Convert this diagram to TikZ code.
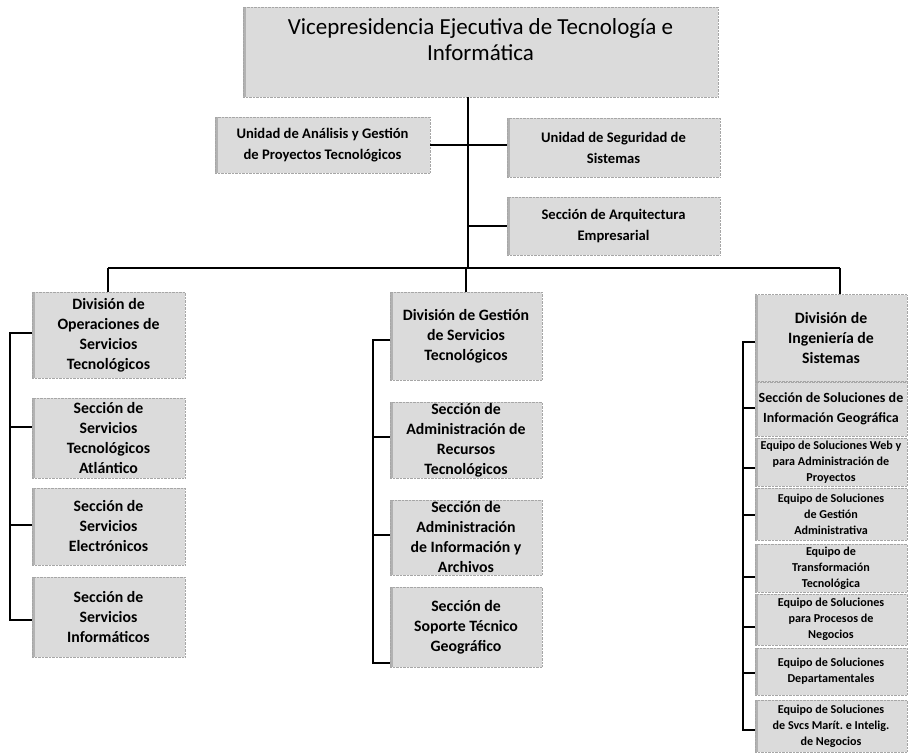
\documentclass[tikz,border=0pt]{standalone}
\usepackage{fontspec}
\setmainfont{Carlito}
\begin{document}
\frenchspacing
\begin{tikzpicture}[x=1pt,y=-1pt,
  box/.style={draw=black!35, densely dotted, fill=black!14, inner sep=0pt, align=center, text=black,
    path picture={\fill[black!30] (path picture bounding box.south west) rectangle ([xshift=3pt]path picture bounding box.north west);}},
  ln/.style={line width=1.7pt, black, solid},
  ftitle/.style={font=\fontsize{23}{26}\selectfont},
  funit/.style={font=\bfseries\fontsize{14.6}{21}\selectfont},
  fcol/.style={font=\bfseries\fontsize{15.8}{20}\selectfont},
  fsmall/.style={font=\bfseries\fontsize{12.1}{16}\selectfont}]
\useasboundingbox (0,0) rectangle (909,752);
\fill[white] (0,0) rectangle (909,752);

% top
\node[box, minimum width=475, minimum height=90] (vp) at (480.5,52) {};
\node[ftitle, align=center] (vptext) at (480.5,40) {Vicepresidencia Ejecutiva de Tecnología e\\Informática};

\node[box, funit, minimum width=215, minimum height=56] (ua) at (322.5,145) {Unidad de Análisis y Gestión\\de Proyectos Tecnológicos};
\node[box, funit, minimum width=213, minimum height=59] (us) at (613.5,147.5) {Unidad de Seguridad de\\Sistemas};
\node[box, funit, minimum width=213, minimum height=58] (sa) at (613.5,226) {Sección de Arquitectura\\Empresarial};

% left column
\node[box, fcol, minimum width=153, minimum height=86] (dop) at (108.5,335) {División de\\Operaciones de\\Servicios\\Tecnológicos};
\node[box, fcol, minimum width=153, minimum height=80] (sta) at (108.5,438) {Sección de\\Servicios\\Tecnológicos\\Atlántico};
\node[box, fcol, minimum width=153, minimum height=77] (sse) at (108.5,526.5) {Sección de\\Servicios\\Electrónicos};
\node[box, fcol, minimum width=153, minimum height=80] (ssi) at (108.5,617) {Sección de\\Servicios\\Informáticos};

% middle column
\node[box, fcol, minimum width=152, minimum height=88] (dgs) at (466,336) {División de Gestión\\de Servicios\\Tecnológicos};
\node[box, fcol, minimum width=152, minimum height=76] (sar) at (466,440) {Sección de\\Administración de\\Recursos\\Tecnológicos};
\node[box, fcol, minimum width=152, minimum height=75] (sai) at (466,537.5) {Sección de\\Administración\\de Información y\\Archivos};
\node[box, fcol, minimum width=152, minimum height=80] (sst) at (466,627) {Sección de\\Soporte Técnico\\Geográfico};

% right column
\node[box, fcol, minimum width=152, minimum height=87] (dis) at (831,338) {División de\\Ingeniería de\\Sistemas};
\node[box, font=\bfseries\fontsize{14}{20}\selectfont, minimum width=152, minimum height=54] (ssg) at (831,409) {Sección de Soluciones de\\Información Geográfica};
\node[box, fsmall, minimum width=152, minimum height=48] (ewb) at (831,462) {Equipo de Soluciones Web y\\para Administración de\\Proyectos};
\node[box, fsmall, minimum width=152, minimum height=52] (ega) at (831,514) {Equipo de Soluciones\\de Gestión\\Administrativa};
\node[box, fsmall, minimum width=152, minimum height=48] (ett) at (831,568) {Equipo de\\Transformación\\Tecnológica};
\node[box, fsmall, minimum width=152, minimum height=51] (epp) at (831,619.5) {Equipo de Soluciones\\para Procesos de\\Negocios};
\node[box, fsmall, minimum width=152, minimum height=47] (esd) at (831,671.5) {Equipo de Soluciones\\Departamentales};
\node[box, fsmall, minimum width=152, minimum height=52] (esm) at (831,726) {Equipo de Soluciones\\de Svcs Marít. e Intelig.\\de Negocios};

% trunk and bus
\coordinate (trunk) at (468,268);
\coordinate (busL) at (108,268);
\coordinate (busR) at (840,268);
\draw[ln] (vp.south -| trunk) -- (trunk);
\draw[ln] (ua.east) -- (us.west |- ua.east);
\draw[ln] (trunk |- sa.west) -- (sa.west);
\draw[ln, line width=2.4pt] (busL) -- (busR);
\draw[ln] (busL) -- (busL |- dop.north);
\draw[ln] (dgs.north |- trunk) -- (dgs.north);
\draw[ln] (busR) -- (busR |- dis.north);

% left bracket
\coordinate (l1) at (10,333);
\coordinate (l2) at (10,427);
\coordinate (l3) at (10,525);
\coordinate (l4) at (10,620);
\draw[ln] (l1 -| dop.west) -- (l1) -- (l4) -- (l4 -| ssi.west);
\draw[ln] (l2) -- (l2 -| sta.west);
\draw[ln] (l3) -- (l3 -| sse.west);

% middle bracket
\coordinate (m1) at (373,340);
\coordinate (m2) at (373,437);
\coordinate (m3) at (373,535);
\coordinate (m4) at (373,663);
\draw[ln] (m1 -| dgs.west) -- (m1) -- (m4) -- (m4 -| sst.west);
\draw[ln] (m2) -- (m2 -| sar.west);
\draw[ln] (m3) -- (m3 -| sai.west);

% right bracket
\coordinate (r1) at (743,342);
\coordinate (r2) at (743,408);
\coordinate (r3) at (743,468);
\coordinate (r4) at (743,515);
\coordinate (r5) at (743,577);
\coordinate (r6) at (743,627);
\coordinate (r7) at (743,673);
\coordinate (r8) at (743,730);
\draw[ln] (r1 -| dis.west) -- (r1) -- (r8) -- (r8 -| esm.west);
\draw[ln] (r2) -- (r2 -| ssg.west);
\draw[ln] (r3) -- (r3 -| ewb.west);
\draw[ln] (r4) -- (r4 -| ega.west);
\draw[ln] (r5) -- (r5 -| ett.west);
\draw[ln] (r6) -- (r6 -| epp.west);
\draw[ln] (r7) -- (r7 -| esd.west);
\end{tikzpicture}
\end{document}
